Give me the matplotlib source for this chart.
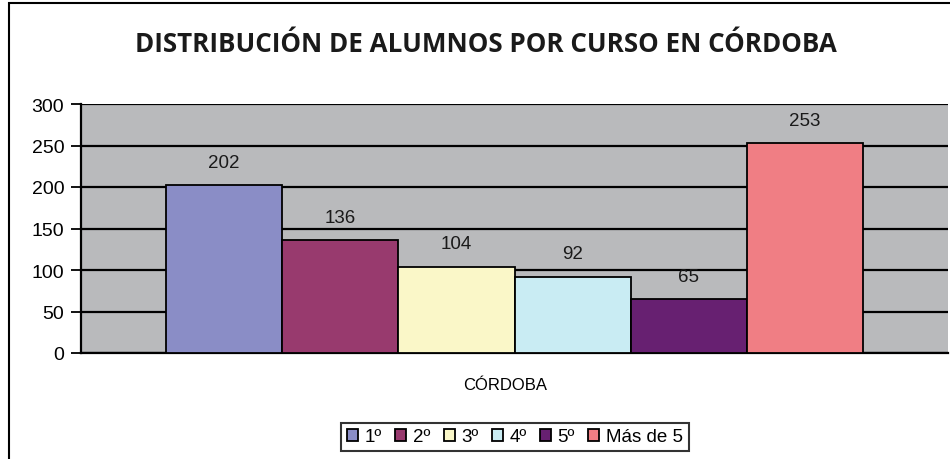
import matplotlib.pyplot as plt
from matplotlib.patches import Rectangle

# data
cursos = ['1º', '2º', '3º', '4º', '5º', 'Más de 5']
alumnos = [202, 136, 104, 92, 65, 253]
colores = ['#8a8dc6', '#983a6e', '#faf7c8', '#c9ecf3', '#672071', '#f07e84']
categoria = 'CÓRDOBA'
yticks = [0, 50, 100, 150, 200, 250, 300]

plt.rcParams['font.family'] = ['Liberation Sans', 'DejaVu Sans']

fig = plt.figure(figsize=(9.5, 4.6), dpi=100)
ax = fig.add_axes([81 / 950, 1 - 354 / 460, 867 / 950, 249 / 460])
ax.set_facecolor('#b9babc')

# bars next to each other inside the single category
for i, (c, v, col) in enumerate(zip(cursos, alumnos, colores)):
    ax.bar(i, v, width=1.0, color=col, edgecolor='black', linewidth=1.3,
           label=c, zorder=3)
    ax.annotate(str(v), (i, v), xytext=(0, 16.5), textcoords='offset points',
                ha='center', va='center', fontsize=13.5, color='#1a1a1a',
                zorder=4)

gap = 85 / 116
ax.set_xlim(-0.5 - gap, len(cursos) - 0.5 + gap)
ax.set_ylim(0, 300)
ax.set_yticks(yticks)
ax.yaxis.grid(True, color='black', linewidth=1.6, zorder=1)
ax.set_axisbelow(True)

ax.set_xticks([(len(cursos) - 1) / 2 - 0.08])
ax.set_xticklabels([categoria])
ax.tick_params(axis='x', length=0, pad=17, labelsize=12)
ax.tick_params(axis='y', length=7, width=1.3, pad=5, labelsize=14,
               direction='out')

for s in ['top', 'right']:
    ax.spines[s].set_visible(False)
ax.spines['left'].set_linewidth(1.6)
ax.spines['bottom'].set_linewidth(1.6)

fig.text(0.512, 1 - 45 / 460, 'DISTRIBUCIÓN DE ALUMNOS POR CURSO EN CÓRDOBA',
         ha='center', va='center', fontsize=18.7, fontweight='bold',
         family=['Open Sans', 'DejaVu Sans'], color='#1a1a1a')

leg = fig.legend(loc='center', bbox_to_anchor=(515 / 950, 1 - 438 / 460),
                 ncol=6, fontsize=13.5, frameon=True, fancybox=False,
                 handlelength=0.6, handleheight=0.6, handletextpad=0.35,
                 columnspacing=0.7, borderpad=0.3, borderaxespad=0)
leg.get_frame().set_edgecolor('black')
leg.get_frame().set_linewidth(1.5)

# outer chart border (cut by the image edges on the right and bottom)
fig.patches.append(Rectangle((9 / 950, -0.1), 1.2, 1 - 4 / 460 + 0.1,
                             transform=fig.transFigure, fill=False,
                             edgecolor='black', linewidth=1.5))

fig.savefig('out.png', dpi=100)
